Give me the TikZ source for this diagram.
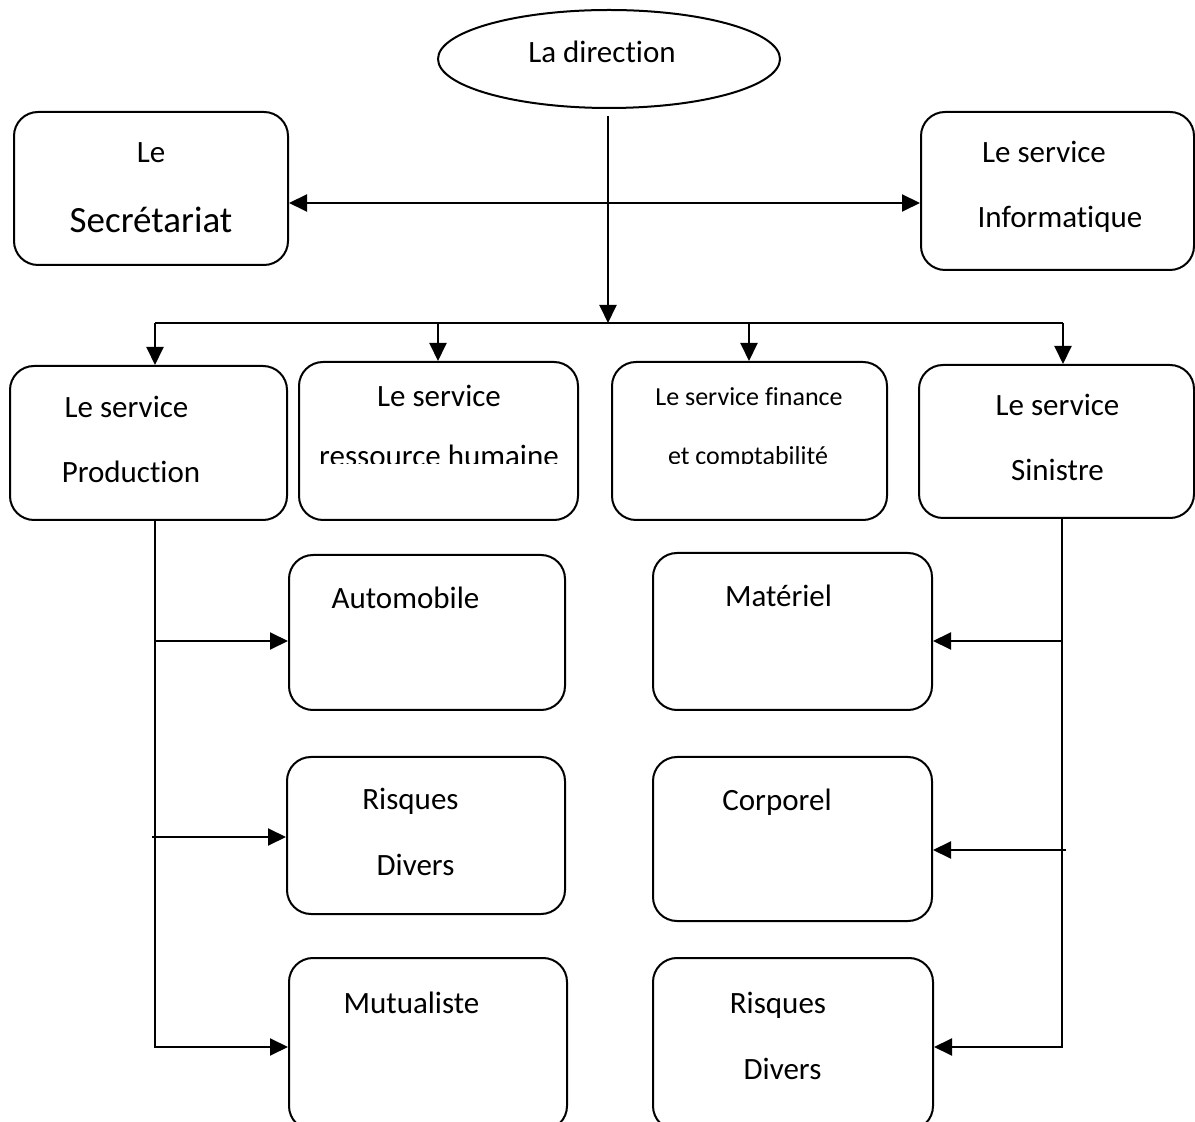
\documentclass[tikz,border=0pt]{standalone}
\usepackage{fontspec}
\setmainfont{Carlito}[RawFeature={-liga;-clig;-calt;-dlig;-rlig}]
\usetikzlibrary{shapes.geometric,arrows.meta,positioning}

\begin{document}
\begin{tikzpicture}[x=0.5pt, y=-0.5pt, line width=1pt,
  box/.style={draw, rounded corners=12pt, inner sep=0pt, minimum width=#1},
  lbl/.style={inner sep=0pt, anchor=base, font=\fontsize{15.5}{18}\selectfont},
  arr/.style={-{Triangle[length=9pt,width=8.5pt]}},
  arrs/.style={{Triangle[length=9pt,width=8.5pt]}-{Triangle[length=9pt,width=8.5pt]}}
]
  \clip (0,0) rectangle (1195,1122);
  % boxes
  \node[draw, ellipse, minimum width=171pt, minimum height=49pt] (dir) at (609,59) {};
  \node[box=137pt, minimum height=76.5pt] (sec) at (151,188.5) {};
  \node[box=136.5pt, minimum height=79pt] (info) at (1057.5,191) {};
  \node[box=138.5pt, minimum height=77pt] (prod) at (148.5,443) {};
  \node[box=139.5pt, minimum height=79pt] (rh) at (438.5,441) {};
  \node[box=137.5pt, minimum height=79pt] (fin) at (749.5,441) {};
  \node[box=137.5pt, minimum height=76.5pt] (sin) at (1056.5,441.5) {};
  \node[box=138pt, minimum height=77.5pt] (auto) at (427,632.5) {};
  \node[box=139pt, minimum height=78.5pt] (risq1) at (426,835.5) {};
  \node[box=139pt, minimum height=86pt] (mut) at (428,1044) {};
  \node[box=139.5pt, minimum height=78.5pt] (mat) at (792.5,631.5) {};
  \node[box=139.5pt, minimum height=82pt] (corp) at (792.5,839) {};
  \node[box=140pt, minimum height=86pt] (risq2) at (793,1044) {};

  % texts
  \node[lbl] at (602,63) {La direct\kern0pt ion};
  \node[lbl] at (151,163) {Le};
  \node[lbl, font=\fontsize{18.5}{22}\selectfont] at (151,233) {Secrétariat};
  \node[lbl] at (1044,163) {Le service};
  \node[lbl] at (1060,228) {Informat\kern0pt ique};
  \node[lbl] at (126.5,418) {Le service};
  \node[lbl] at (131,483) {Production};
  \node[lbl] at (439,407) {Le service};
  \node[lbl, font=\fontsize{13}{16}\selectfont] at (749,406) {Le service finance};
  \begin{scope}
    \clip (300,430) rectangle (880,463.5);
    \node[lbl] at (439,467) {ressource humaine};
    \node[lbl, font=\fontsize{13}{16}\selectfont] at (748,465) {et comptabilité};
  \end{scope}
  \node[lbl] at (1057.5,416) {Le service};
  \node[lbl] at (1057.5,481) {Sinistre};
  \node[lbl] at (405.5,609) {Automobile};
  \node[lbl] at (410.5,810) {Risques};
  \node[lbl] at (415.5,876) {Divers};
  \node[lbl] at (411.5,1013) {Mutualiste};
  \node[lbl] at (778.5,607) {Matériel};
  \node[lbl] at (777,811) {Corporel};
  \node[lbl] at (778,1013) {Risques};
  \node[lbl] at (782.5,1079) {Divers};

  % connectors
  \coordinate (hbar) at (608,203);
  \coordinate (bus) at (608,323);
  \draw[arrs] (sec.east |- hbar) -- (info.west |- hbar);
  \draw[arr] (dir.south -| bus) ++(0,7) -- (bus);
  \draw (155,323) -- (1063,323);
  \foreach \x/\b in {155/prod, 438/rh, 749/fin, 1063/sin} {
    \coordinate (drop-\b) at (\x,323);
    \draw[arr] (drop-\b) -- (drop-\b |- \b.north);
  }
  % production side
  \coordinate (lt) at (155,520);
  \draw[arr] (lt) |- (mut.west |- 0,1047);
  \draw[arr] (155,641) -- (auto.west |- 0,641);
  \draw[arr] (152,837) -- (risq1.west |- 0,837);
  % sinistre side
  \coordinate (rt) at (1062,518);
  \draw[arr] (rt) |- (risq2.east |- 0,1047);
  \draw[arr] (1062,641) -- (mat.east |- 0,641);
  \draw[arr] (1066,850) -- (corp.east |- 0,850);
\end{tikzpicture}
\end{document}
